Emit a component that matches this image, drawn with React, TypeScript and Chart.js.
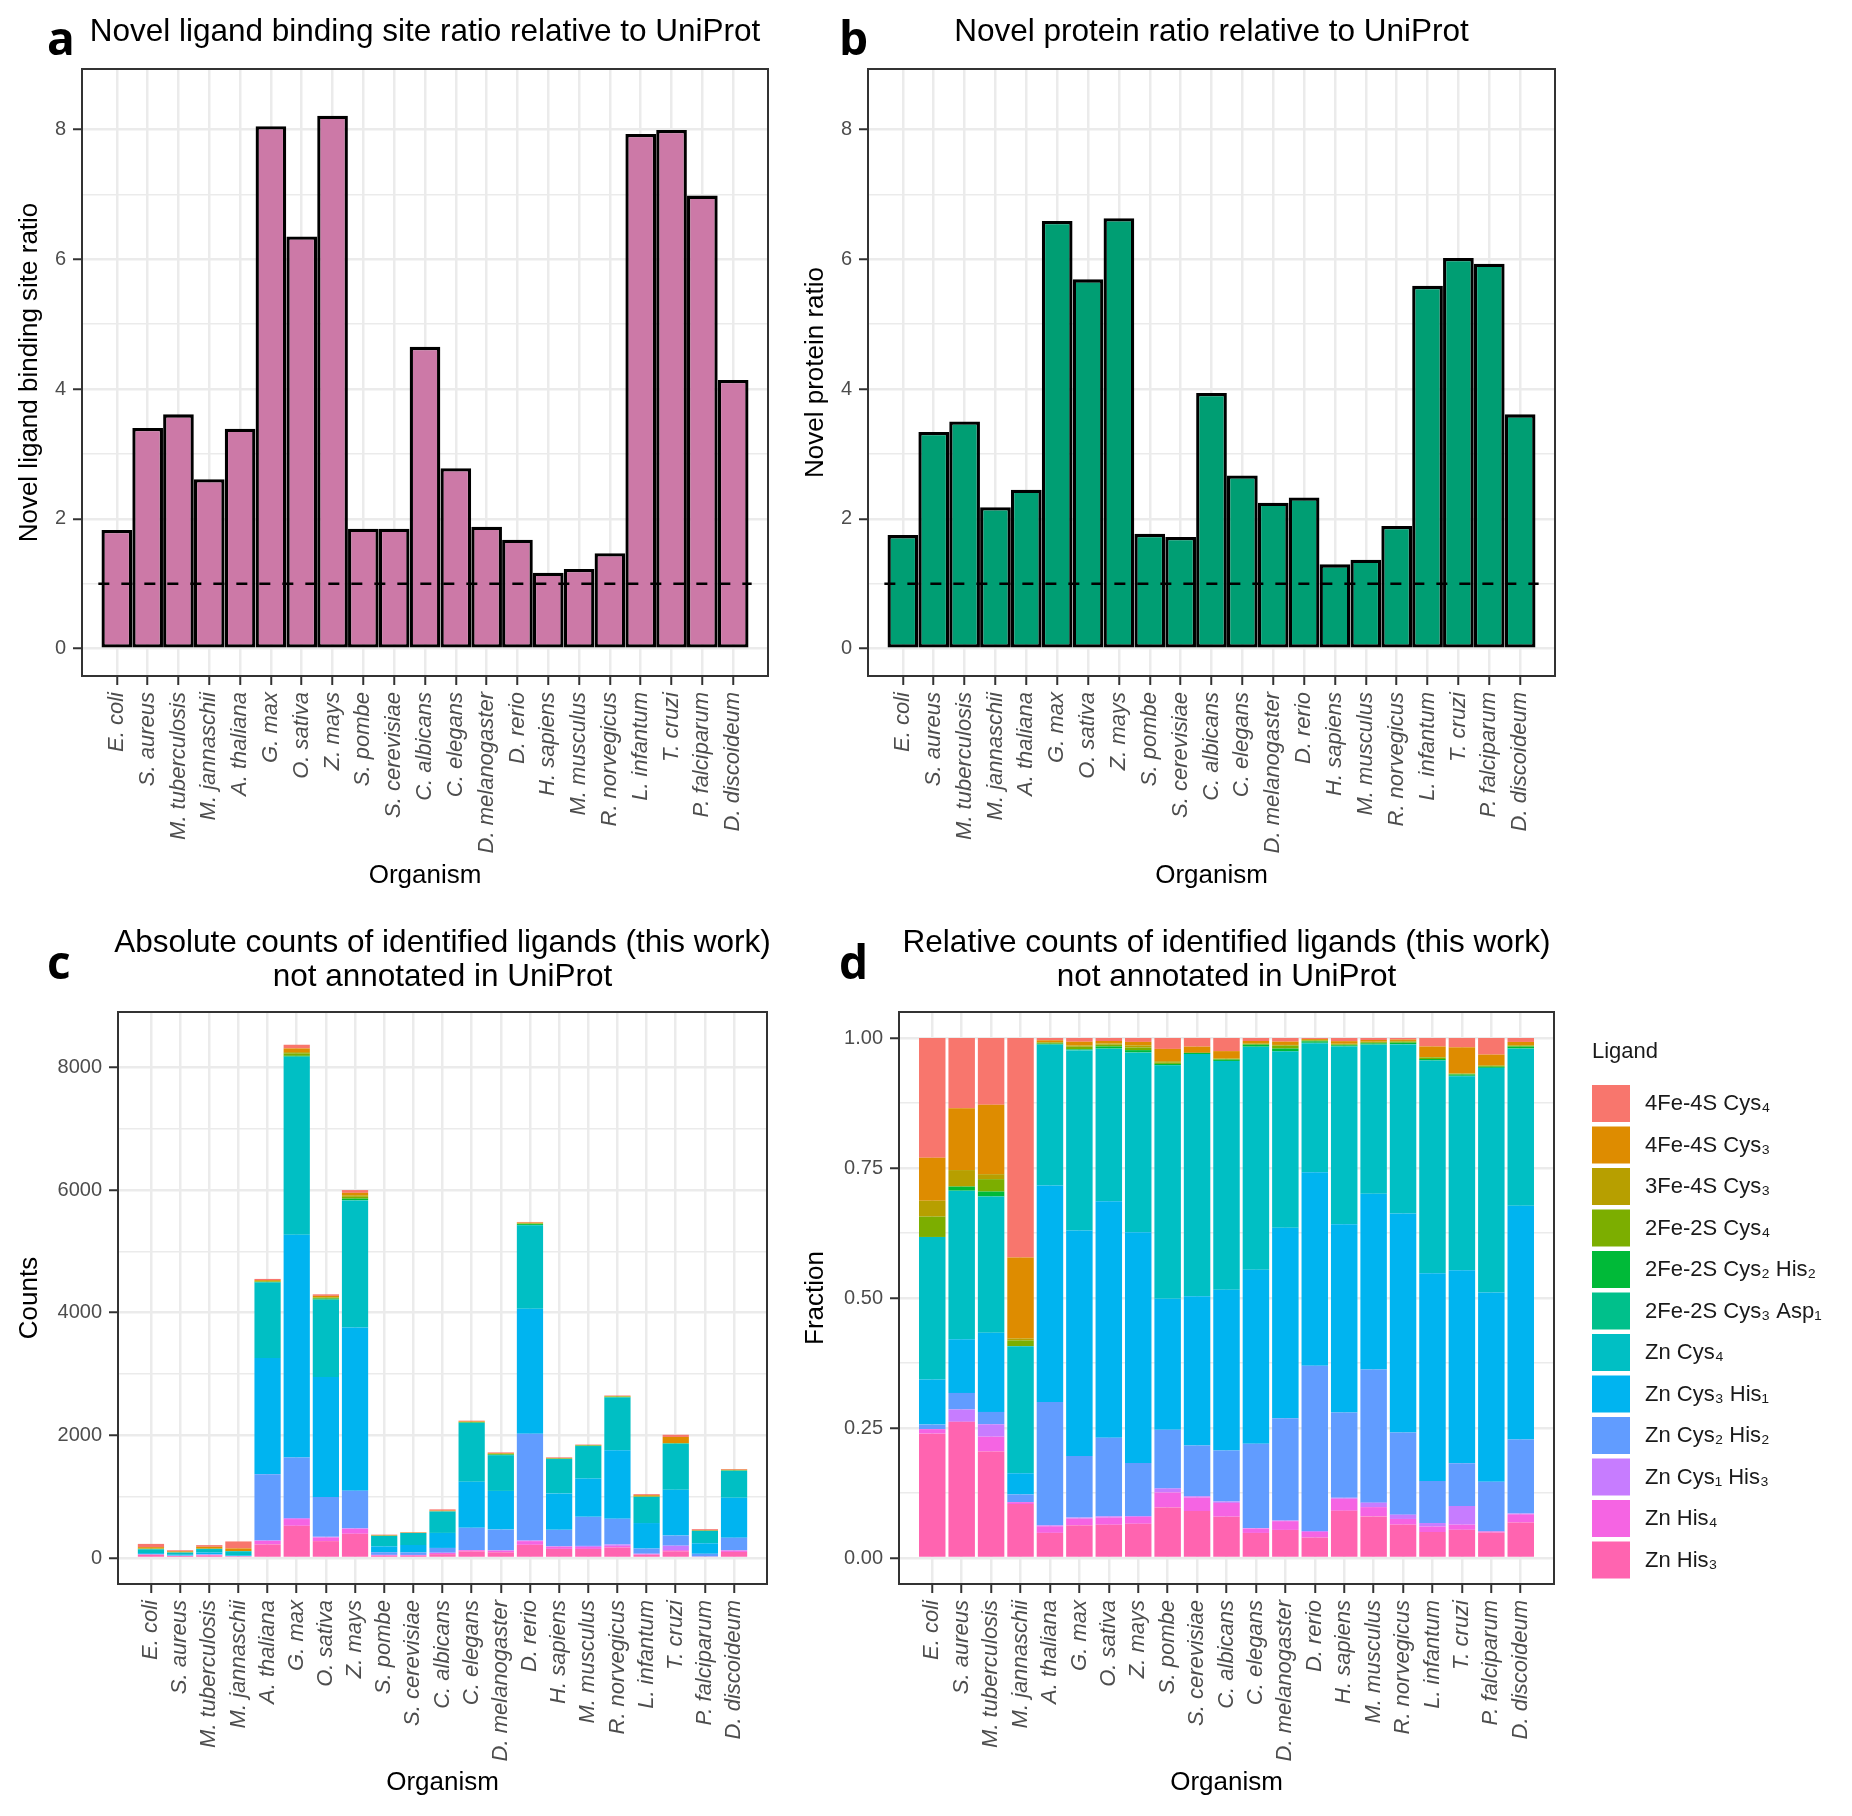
import React, { useEffect, useRef } from "react";
import { Chart, registerables } from "chart.js";

Chart.register(...registerables);

const FONT = '"Liberation Sans", Arial, sans-serif';
Chart.defaults.font.family = FONT;

// ---------------- data ----------------
const organisms = [
  "E. coli", "S. aureus", "M. tuberculosis", "M. jannaschii", "A. thaliana", "G. max", "O. sativa",
  "Z. mays", "S. pombe", "S. cerevisiae", "C. albicans", "C. elegans", "D. melanogaster", "D. rerio",
  "H. sapiens", "M. musculus", "R. norvegicus", "L. infantum", "T. cruzi", "P. falciparum", "D. discoideum",
];

const ligandSiteRatio = [1.83, 3.40, 3.61, 2.61, 3.39, 8.05, 6.35, 8.21, 1.85, 1.85, 4.65, 2.78, 1.88, 1.68, 1.17, 1.23, 1.47, 7.93, 7.99, 6.98, 4.14];
const proteinRatio = [1.75, 3.34, 3.50, 2.18, 2.45, 6.59, 5.69, 6.63, 1.77, 1.72, 3.94, 2.67, 2.25, 2.33, 1.30, 1.37, 1.89, 5.59, 6.02, 5.93, 3.61];
const referenceRatio = 1;

// counts per ligand (legend order), one value per organism
const fe4s4Cys4 = [53, 17, 27, 114, 20, 60, 25, 45, 8, 7, 20, 13, 12, 10, 10, 7, 8, 17, 36, 15, 11];
const fe4s4Cys3 = [19, 15, 28, 42, 15, 60, 20, 40, 9, 5, 11, 10, 11, 10, 8, 6, 7, 21, 101, 10, 10];
const fe3s4Cys3 = [7, 4, 2, 1, 5, 20, 10, 25, 1, 0, 1, 3, 2, 5, 2, 2, 3, 1, 1, 0, 0];
const fe2s2Cys4 = [9, 0, 5, 3, 10, 40, 15, 30, 1, 0, 1, 3, 10, 10, 3, 4, 6, 3, 3, 1, 3];
const fe2s2Cys2His2 = [0, 1, 2, 0, 5, 10, 15, 25, 1, 1, 2, 8, 8, 15, 3, 4, 7, 3, 5, 1, 5];
const fe2s2Cys3Asp1 = [0, 0, 0, 0, 5, 10, 5, 5, 0, 0, 0, 2, 2, 5, 1, 1, 2, 0, 2, 0, 1];
const znCys4 = [63, 36, 55, 66, 1230, 2900, 1260, 2070, 171, 196, 349, 959, 583, 1360, 561, 530, 861, 426, 750, 203, 438];
const znCys3His1 = [20, 13, 32, 11, 1895, 3630, 1955, 2665, 96, 121, 245, 750, 631, 2040, 594, 625, 1116, 416, 746, 171, 652];
const znCys2His2 = [2, 4, 5, 4, 1080, 990, 650, 610, 43, 41, 78, 363, 339, 1740, 269, 474, 419, 84, 165, 45, 207];
const znCys1His3 = [0, 3, 5, 0, 8, 15, 10, 10, 3, 1, 2, 2, 2, 10, 3, 16, 22, 7, 72, 0, 2];
const znHis4 = [2, 0, 6, 1, 58, 110, 60, 80, 11, 11, 21, 19, 29, 60, 38, 33, 29, 11, 20, 1, 23];
const znHis3 = [55, 33, 43, 28, 220, 525, 275, 395, 37, 38, 63, 108, 93, 215, 149, 148, 170, 52, 109, 23, 99];

const ligandNames = [
  "4Fe-4S Cys\u2084", "4Fe-4S Cys\u2083", "3Fe-4S Cys\u2083", "2Fe-2S Cys\u2084", "2Fe-2S Cys\u2082 His\u2082",
  "2Fe-2S Cys\u2083 Asp\u2081", "Zn Cys\u2084", "Zn Cys\u2083 His\u2081", "Zn Cys\u2082 His\u2082",
  "Zn Cys\u2081 His\u2083", "Zn His\u2084", "Zn His\u2083",
];
const ligandColors = [
  "#F8766D", "#DE8C00", "#B79F00", "#7CAE00", "#00BA38", "#00C08B",
  "#00BFC4", "#00B4F0", "#619CFF", "#C77CFF", "#F564E3", "#FF64B0",
];
const ligandCounts = [
  fe4s4Cys4, fe4s4Cys3, fe3s4Cys3, fe2s2Cys4, fe2s2Cys2His2, fe2s2Cys3Asp1,
  znCys4, znCys3His1, znCys2His2, znCys1His3, znHis4, znHis3,
];

const ratioTicks = [0, 1, 2, 3, 4, 5, 6, 7, 8];
const countTicks = [0, 1000, 2000, 3000, 4000, 5000, 6000, 7000, 8000];
const fractionTicks = [0, 0.125, 0.25, 0.375, 0.5, 0.625, 0.75, 0.875, 1];

// ---------------- styling helpers ----------------
const TICK_TEXT = "#4D4D4D";
const AXIS_COLOR = "#333333";
const GRID = "#EBEBEB";

function xAxis(height: number, stacked: boolean) {
  return {
    type: "linear" as const,
    min: -0.6,
    max: organisms.length - 0.4,
    stacked,
    afterBuildTicks: (s: any) => {
      s.ticks = organisms.map((_, i) => ({ value: i }));
    },
    afterFit: (s: any) => {
      s.height = height;
    },
    ticks: {
      autoSkip: false,
      minRotation: 90,
      maxRotation: 90,
      padding: 7,
      color: TICK_TEXT,
      font: { family: FONT, size: 22, style: "italic" as const },
      callback: (v: any) => organisms[v] ?? "",
    },
    grid: { color: GRID, lineWidth: 2.5, tickLength: 9, tickColor: AXIS_COLOR, tickWidth: 2, offset: false },
    border: { display: false },
  };
}

function yAxis(width: number, min: number, max: number, values: number[], isMajor: (v: number) => boolean, fmt: (v: number) => string, stacked: boolean) {
  return {
    type: "linear" as const,
    min,
    max,
    stacked,
    afterBuildTicks: (s: any) => {
      s.ticks = values.map((v) => ({ value: v }));
    },
    afterFit: (s: any) => {
      s.width = width;
    },
    ticks: {
      padding: 7,
      color: TICK_TEXT,
      font: { family: FONT, size: 20 },
      callback: (v: any) => (isMajor(v) ? fmt(v) : ""),
    },
    grid: {
      color: GRID,
      lineWidth: (c: any) => (c.tick && isMajor(c.tick.value) ? 2.5 : 1.4),
      tickLength: 9,
      tickColor: (c: any) => (c.tick && isMajor(c.tick.value) ? AXIS_COLOR : "rgba(0,0,0,0)"),
      tickWidth: 2,
    },
    border: { display: false },
  };
}

type TextItem = {
  text: string;
  x: number;
  y: number;
  font: string;
  color?: string;
  align?: CanvasTextAlign;
  baseline?: CanvasTextBaseline;
  rotate?: boolean;
};

function decorPlugin(id: string, ox: number, oy: number, texts: TextItem[], withLegend: boolean) {
  return {
    id,
    afterDraw(chart: any) {
      const { ctx, chartArea: a } = chart;
      ctx.save();
      ctx.strokeStyle = AXIS_COLOR;
      ctx.lineWidth = 2;
      ctx.strokeRect(a.left, a.top, a.right - a.left, a.bottom - a.top);
      for (const t of texts) {
        ctx.save();
        ctx.font = t.font;
        ctx.fillStyle = t.color || "#000000";
        ctx.textAlign = t.align || "center";
        ctx.textBaseline = t.baseline || "alphabetic";
        ctx.translate(t.x - ox, t.y - oy);
        if (t.rotate) ctx.rotate(-Math.PI / 2);
        ctx.fillText(t.text, 0, 0);
        ctx.restore();
      }
      if (withLegend) {
        const lx = 1592 - ox;
        ctx.font = `22px ${FONT}`;
        ctx.fillStyle = "#1A1A1A";
        ctx.textAlign = "left";
        ctx.textBaseline = "alphabetic";
        ctx.fillText("Ligand", lx, 1058 - oy);
        ligandNames.forEach((name, i) => {
          const top = 1085 + i * 41.5 - oy;
          ctx.fillStyle = ligandColors[i];
          ctx.fillRect(lx, top, 38, 37);
          ctx.fillStyle = "#1A1A1A";
          ctx.font = `22px ${FONT}`;
          ctx.textBaseline = "middle";
          ctx.fillText(name, 1645 - ox, top + 19);
        });
      }
      ctx.restore();
    },
  };
}

const LETTER_FONT = 'bold 46px "Open Sans", "Liberation Sans", sans-serif';
const TITLE_FONT = `31.5px ${FONT}`;
const AXIS_TITLE_FONT = `26px ${FONT}`;

function ratioChart(values: number[], color: string, width: number, ox: number, texts: TextItem[], id: string) {
  return {
    type: "bar" as const,
    data: {
      datasets: [
        {
          type: "line" as const,
          data: [
            { x: -0.6, y: referenceRatio },
            { x: organisms.length - 0.4, y: referenceRatio },
          ],
          borderColor: "#000000",
          borderWidth: 2.5,
          borderDash: [11, 12],
          pointRadius: 0,
          order: 0,
        },
        {
          type: "bar" as const,
          data: values.map((v, i) => ({ x: i, y: v })),
          backgroundColor: color,
          borderColor: "#000000",
          borderWidth: 3.3,
          borderSkipped: false,
          inflateAmount: 0,
          categoryPercentage: 0.995,
          barPercentage: 1,
          order: 1,
        },
      ],
    },
    options: {
      animation: false as const,
      responsive: false,
      events: [],
      layout: { padding: { left: 0, top: 69, right: width, bottom: 0 } },
      plugins: { legend: { display: false }, tooltip: { enabled: false }, title: { display: false } },
      scales: {
        x: xAxis(224, false),
        y: yAxis(ox, -0.42, 8.93, ratioTicks, (v) => v % 2 === 0, (v) => String(v), false),
      },
    },
    plugins: [decorPlugin(id, 0, 0, texts, false)],
  };
}

function stackedChart(relative: boolean, yWidth: number, rightPad: number, ox: number, oy: number, texts: TextItem[], id: string) {
  const totals = organisms.map((_, i) => ligandCounts.reduce((s, arr) => s + arr[i], 0));
  const datasets = ligandCounts
    .map((arr, k) => ({
      type: "bar" as const,
      label: ligandNames[k],
      data: arr.map((v, i) => ({ x: i, y: relative ? v / totals[i] : v })),
      backgroundColor: ligandColors[k],
      borderWidth: 0,
      categoryPercentage: 0.9,
      barPercentage: 1,
    }))
    .reverse();
  return {
    type: "bar" as const,
    data: { datasets },
    options: {
      animation: false as const,
      responsive: false,
      events: [],
      layout: { padding: { left: 0, top: 112, right: rightPad, bottom: 0 } },
      plugins: { legend: { display: false }, tooltip: { enabled: false }, title: { display: false } },
      scales: {
        x: xAxis(232, true),
        y: relative
          ? yAxis(yWidth, -0.05, 1.05, fractionTicks, (v) => Math.abs((v * 4) - Math.round(v * 4)) < 1e-9, (v) => v.toFixed(2), true)
          : yAxis(yWidth, -424, 8904, countTicks, (v) => v % 2000 === 0, (v) => String(v), true),
      },
    },
    plugins: [decorPlugin(id, ox, oy, texts, relative)],
  };
}

function Panel({ left, top, width, height, make }: { left: number; top: number; width: number; height: number; make: () => any }) {
  const ref = useRef<HTMLCanvasElement>(null);
  useEffect(() => {
    const chart = new Chart(ref.current as HTMLCanvasElement, make());
    return () => chart.destroy();
  }, []);
  return (
    <canvas
      ref={ref}
      width={width}
      height={height}
      style={{ position: "absolute", left, top, width, height }}
    />
  );
}

export default function App() {
  const textsA: TextItem[] = [
    { text: "a", x: 47, y: 55, font: LETTER_FONT, align: "left" },
    { text: "Novel ligand binding site ratio relative to UniProt", x: 425, y: 41, font: TITLE_FONT },
    { text: "Novel ligand binding site ratio", x: 30, y: 372.5, font: AXIS_TITLE_FONT, baseline: "middle", rotate: true },
    { text: "Organism", x: 425, y: 883, font: AXIS_TITLE_FONT },
  ];
  const textsB: TextItem[] = [
    { text: "b", x: 839, y: 55, font: LETTER_FONT, align: "left" },
    { text: "Novel protein ratio relative to UniProt", x: 1211.5, y: 41, font: TITLE_FONT },
    { text: "Novel protein ratio", x: 816, y: 372.5, font: AXIS_TITLE_FONT, baseline: "middle", rotate: true },
    { text: "Organism", x: 1211.5, y: 883, font: AXIS_TITLE_FONT },
  ];
  const textsC: TextItem[] = [
    { text: "c", x: 47, y: 979, font: LETTER_FONT, align: "left" },
    { text: "Absolute counts of identified ligands (this work)", x: 442.5, y: 952, font: TITLE_FONT },
    { text: "not annotated in UniProt", x: 442.5, y: 986, font: TITLE_FONT },
    { text: "Counts", x: 30, y: 1298, font: AXIS_TITLE_FONT, baseline: "middle", rotate: true },
    { text: "Organism", x: 442.5, y: 1790, font: AXIS_TITLE_FONT },
  ];
  const textsD: TextItem[] = [
    { text: "d", x: 839, y: 979, font: LETTER_FONT, align: "left" },
    { text: "Relative counts of identified ligands (this work)", x: 1226.5, y: 952, font: TITLE_FONT },
    { text: "not annotated in UniProt", x: 1226.5, y: 986, font: TITLE_FONT },
    { text: "Fraction", x: 816, y: 1298, font: AXIS_TITLE_FONT, baseline: "middle", rotate: true },
    { text: "Organism", x: 1226.5, y: 1790, font: AXIS_TITLE_FONT },
  ];

  const shiftB = textsB.map((t) => ({ ...t, x: t.x - 780 }));

  return (
    <div style={{ position: "absolute", left: 0, top: 0, width: 1852, height: 1816, background: "#ffffff", overflow: "hidden" }}>
      <Panel left={0} top={0} width={790} height={900} make={() => ratioChart(ligandSiteRatio, "#CC79A7", 22, 82, textsA, "decorA")} />
      <Panel left={780} top={0} width={1072} height={900} make={() => ratioChart(proteinRatio, "#009E73", 297, 88, shiftB, "decorB")} />
      <Panel left={0} top={900} width={790} height={916} make={() => stackedChart(false, 118, 23, 0, 900, textsC, "decorC")} />
      <Panel left={780} top={900} width={1072} height={916} make={() => stackedChart(true, 119, 298, 780, 900, textsD, "decorD")} />
    </div>
  );
}
